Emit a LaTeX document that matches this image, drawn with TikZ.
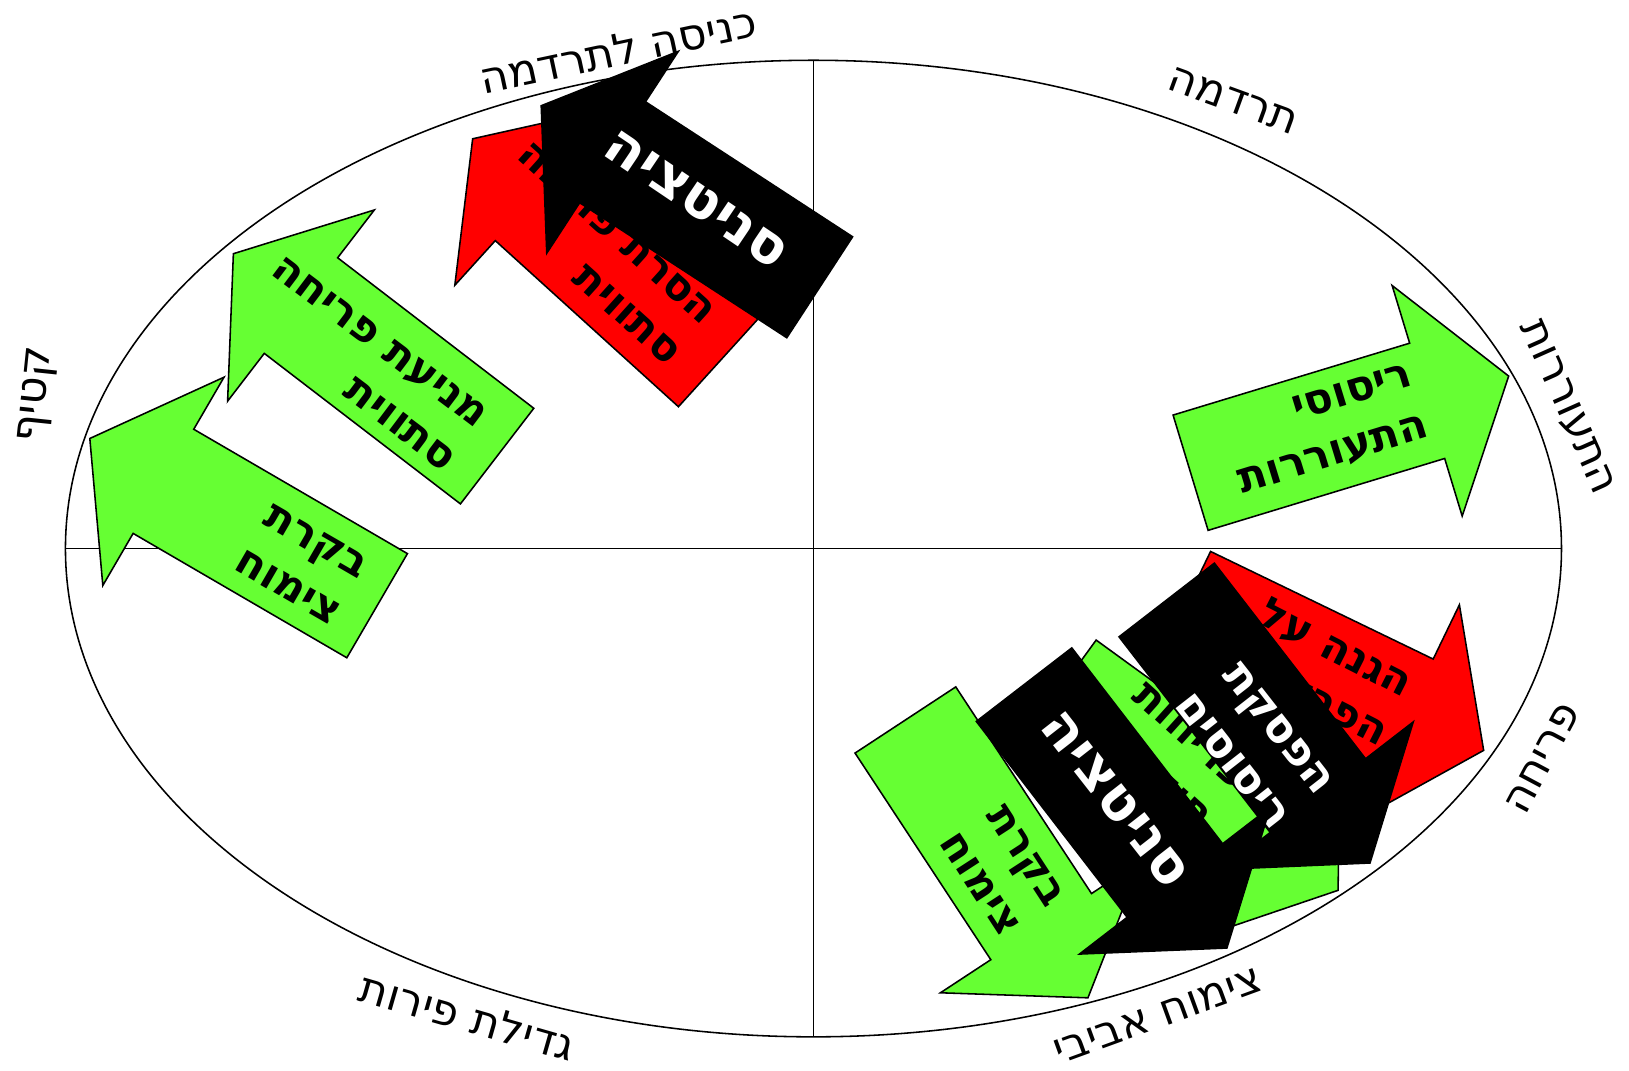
\documentclass[tikz,border=0pt]{standalone}
\usepackage{fontspec}
\newfontfamily\heb[Script=Hebrew]{DejaVu Sans}
\TeXXeTstate=1
\definecolor{grn}{HTML}{66FF33}
\definecolor{rd}{HTML}{FF0000}
\tikzset{
  arr/.style={draw=black, line width=0.75pt, line join=miter},
  lbl/.style={font=\heb\fontsize{21}{24}\selectfont, inner sep=0pt},
  atxt/.style={font=\heb\bfseries\fontsize{20.5}{26}\selectfont, align=right, inner sep=0pt},
  btxt/.style={font=\heb\bfseries\fontsize{27}{30}\selectfont, text=white, inner sep=0pt},
}
\newcommand{\blockarr}[5]{%
  \begin{scope}[shift={(#1,#2)},rotate=#3]
    \filldraw[arr, fill=#5] (0,-58) -- ({#4-82},-58) -- ({#4-82},-116) -- (#4,0)
      -- ({#4-82},116) -- ({#4-82},58) -- (0,58) -- cycle;
  \end{scope}}
\begin{document}
\begin{tikzpicture}[x=0.5pt,y=-0.5pt]
\useasboundingbox (0,0) rectangle (1568,1030);
% ellipse and axes
\coordinate (c) at (783,528);
\draw[line width=0.75pt] (c) ellipse [x radius=720, y radius=470];
\coordinate (w) at (63,528);
\coordinate (e) at (1503,528);
\coordinate (n) at (783,58);
\coordinate (s) at (783,998);
\draw[line width=0.75pt] (w) -- (e);
\draw[line width=0.75pt] (n) -- (s);
% labels
\node[lbl, rotate=12] (l1) at (595,48) {\beginR כניסה לתרדמה\endR};
\node[lbl, rotate=-20] (l2) at (1187,97) {\beginR תרדמה\endR};
\node[lbl, rotate=-66] (l3) at (1508,392) {\beginR התעוררות\endR};
\node[lbl, rotate=62] (l4) at (1485,730) {\beginR פריחה\endR};
\node[lbl, rotate=20] (l5) at (1115,978) {\beginR צימוח אביבי\endR};
\node[lbl, rotate=-16] (l6) at (450,978) {\beginR גדילת פירות\endR};
\node[lbl, rotate=84] (l7) at (37,380) {\beginR קטיף\endR};
% A
\blockarr{363}{583}{149.8}{320}{grn}
\node[atxt, rotate=-30] (ta) at (290,543) {\beginR בקרת\endR\\\beginR צימוח\endR};
% B
\blockarr{478.5}{439}{142.5}{320}{grn}
\node[atxt, rotate=-37] (tb) at (350,350) {\beginR מניעת פריחה\endR\\\beginR סתווית\endR};
% C
\blockarr{692}{348.5}{137.8}{320}{rd}
\node[atxt, rotate=-42] (tc) at (576,244) {\beginR הסרת פריחה\endR\\\beginR סתווית\endR};
% D
\blockarr{789}{276.5}{146.9}{320}{black}
\node[btxt, rotate=-34] (td) at (670,192) {\beginR סניטציה\endR};
% E
\blockarr{1146}{455}{16.9}{320}{grn}
\node[atxt, rotate=17] (te) at (1276,414) {\beginR ריסוסי\endR\\\beginR התעוררות\endR};
% F1
\blockarr{1140}{583}{-25.8}{320}{rd}
\node[atxt, rotate=-27] (tf1) at (1275,646) {\beginR הגנה על\endR\\\beginR הפריחה\endR};
% F3
\blockarr{1021}{663}{-36}{330}{grn}
\node[atxt, rotate=-42] (tf3) at (1128,728) {\beginR פריחות\endR\\\beginR חוזרות\endR};
% F2
\blockarr{1123}{577.5}{-52.3}{320}{black}
\node[atxt, text=white, font=\heb\bfseries\fontsize{21.5}{27}\selectfont, rotate=-52] (tf2) at (1207,716) {\beginR הפסקת\endR\\\beginR ריסוסים\endR};
% F5
\blockarr{871.5}{693}{-56.7}{320}{grn}
\node[atxt, rotate=-57] (tf5) at (965,837) {\beginR בקרת\endR\\\beginR צימוח\endR};
% F4
\blockarr{985.7}{659}{-52.4}{320}{black}
\node[btxt, rotate=-52] (tf4) at (1073,770) {\beginR סניטציה\endR};
\end{tikzpicture}
\end{document}
